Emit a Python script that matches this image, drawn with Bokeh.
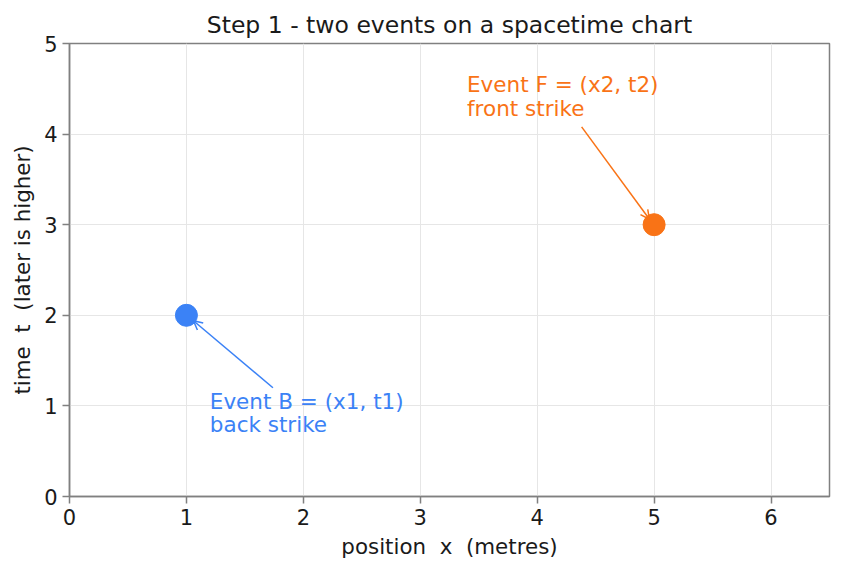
from bokeh.plotting import figure
from bokeh.models import Range1d, FixedTicker, Arrow, OpenHead, ColumnDataSource
from bokeh.core.properties import value
from bokeh.embed import file_html
from bokeh.resources import INLINE

# data
event_names = ["B", "F"]
event_x = [1, 5]
event_t = [2, 3]
event_colors = ["#3b82f6", "#f97316"]
label_line1 = ["Event B = (x1, t1)", "Event F = (x2, t2)"]
label_line2 = ["back strike", "front strike"]
label_x = [1.2, 3.4]
label_t = [1.187, 4.685]
arrow_tail_x = [1.74, 4.38]
arrow_tail_t = [1.2, 4.08]
arrow_head_x = [1.06, 4.96]
arrow_head_t = [1.94, 3.06]
x_ticks = [0, 1, 2, 3, 4, 5, 6]
t_ticks = [0, 1, 2, 3, 4, 5]

FONT = "DejaVu Sans"
GRAY = "#808080"
NB = "\u00a0"

p = figure(width=842, height=571, x_range=Range1d(0, 6.5), y_range=Range1d(0, 5),
           output_backend="svg", toolbar_location=None,
           min_border_left=69, min_border_right=13, min_border_top=43, min_border_bottom=75,
           title="Step 1 - two events on a spacetime chart")

p.title.text_font = FONT
p.title.text_font_size = "23.5px"
p.title.text_font_style = "normal"
p.title.align = "center"
p.title.text_color = "#1a1a1a"
p.title.standoff = 10

p.outline_line_color = GRAY
p.outline_line_width = 1.5
p.background_fill_color = "white"
p.border_fill_color = "white"

xlab = "position" + NB + NB + "x" + NB + NB + "(metres)"
ylab = "time" + NB + NB + "t" + NB + NB + "(later is higher)"
for ax, ticks, lab in [(p.xaxis[0], x_ticks, xlab), (p.yaxis[0], t_ticks, ylab)]:
    ax.ticker = FixedTicker(ticks=ticks)
    ax.axis_label = lab
    ax.axis_label_text_font = FONT
    ax.axis_label_text_font_size = "21.4px"
    ax.axis_label_text_font_style = "normal"
    ax.axis_label_text_color = "#1a1a1a"
    ax.major_label_text_font = FONT
    ax.major_label_text_font_size = "21px"
    ax.major_label_text_color = "#1a1a1a"
    ax.axis_line_color = GRAY
    ax.axis_line_width = 1.5
    ax.major_tick_line_color = GRAY
    ax.major_tick_line_width = 1.5
    ax.major_tick_out = 7
    ax.major_tick_in = 0
    ax.minor_tick_line_color = None
    ax.major_label_standoff = 5
    ax.axis_label_standoff = 6

p.xgrid.grid_line_color = "#e6e6e6"
p.ygrid.grid_line_color = "#e6e6e6"
p.xgrid.ticker = FixedTicker(ticks=x_ticks)
p.ygrid.ticker = FixedTicker(ticks=t_ticks)

src = ColumnDataSource(dict(x=event_x, t=event_t, c=event_colors,
                            l1=label_line1, l2=label_line2, lx=label_x, lt=label_t))

for i in range(len(event_x)):
    p.add_layout(Arrow(end=OpenHead(size=9, line_color=event_colors[i], line_width=1.5),
                       x_start=arrow_tail_x[i], y_start=arrow_tail_t[i],
                       x_end=arrow_head_x[i], y_end=arrow_head_t[i],
                       line_color=event_colors[i], line_width=1.5))

p.scatter(x="x", y="t", source=src, size=22, fill_color="c", line_color="c")

p.text(x="lx", y="lt", text="l1", source=src, text_color="c",
       text_font=value(FONT), text_font_size="21.5px", text_baseline="top", text_align="left")
p.text(x="lx", y="lt", text="l2", source=src, text_color="c", y_offset=23.5,
       text_font=value(FONT), text_font_size="21.5px", text_baseline="top", text_align="left")

open("out.html", "w").write(file_html(p, INLINE))
